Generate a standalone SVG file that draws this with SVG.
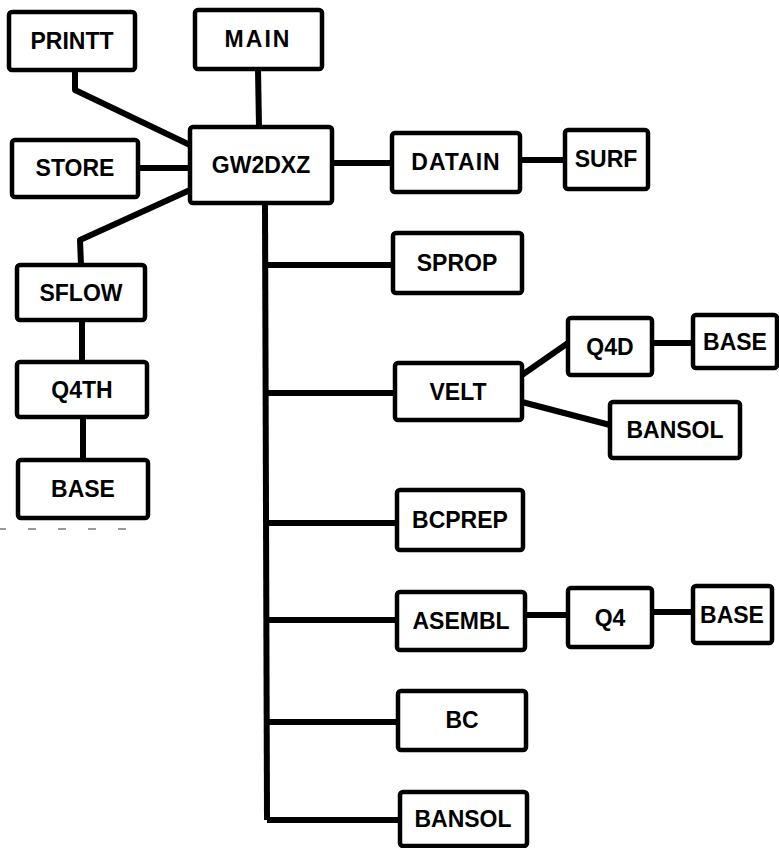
<svg xmlns="http://www.w3.org/2000/svg" width="779" height="848" viewBox="0 0 779 848">
<style>
.box{fill:#fff;stroke:#000;stroke-width:4.5;}
.lbl{font-family:"Liberation Sans",Arial,sans-serif;font-weight:bold;font-size:23px;text-anchor:middle;fill:#000;}
.con{fill:none;stroke:#000;stroke-width:6;stroke-linejoin:round;}
</style>
<rect width="779" height="848" fill="#fff"/>
<g id="connectors">
<path class="con" d="M75 70 L75 90 L190 145"/>
<path class="con" d="M258 69 L259 127"/>
<path class="con" d="M138 168 L190 168"/>
<path class="con" d="M190 190 L80 240 L81 265"/>
<path class="con" d="M332 163 L392 163"/>
<path class="con" d="M520 160 L565 160"/>
<path class="con" d="M265 203 L267 820"/>
<path class="con" d="M265 265 L393 265"/>
<path class="con" d="M265 393 L395 393"/>
<path class="con" d="M266 523 L397 523"/>
<path class="con" d="M266 620 L397 620"/>
<path class="con" d="M267 722 L398 722"/>
<path class="con" d="M267 820 L400 820"/>
<path class="con" d="M522 375 L568 343"/>
<path class="con" d="M522 402 L610 425"/>
<path class="con" d="M652 343 L693 343"/>
<path class="con" d="M82 320 L82 362"/>
<path class="con" d="M83 417 L83 460"/>
<path class="con" d="M525 615 L568 615"/>
<path class="con" d="M652 612 L693 612"/>
</g>
<line x1="-2" y1="529" x2="130" y2="529" stroke="#999" stroke-width="2" stroke-dasharray="8 22"/>
<g id="PRINTT"><rect class="box" x="9" y="12" width="126" height="58" rx="3"/><text class="lbl" x="72" y="49">PRINTT</text></g>
<g id="MAIN"><rect class="box" x="195" y="10" width="127" height="59" rx="3"/><text class="lbl" x="258" y="47" letter-spacing="2">MAIN</text></g>
<g id="GW2DXZ"><rect class="box" x="190" y="127" width="142" height="76" rx="3"/><text class="lbl" x="261" y="173">GW2DXZ</text></g>
<g id="STORE"><rect class="box" x="12" y="140" width="126" height="57" rx="3"/><text class="lbl" x="75" y="176">STORE</text></g>
<g id="DATAIN"><rect class="box" x="392" y="133" width="128" height="59" rx="3"/><text class="lbl" x="456" y="170" letter-spacing="1">DATAIN</text></g>
<g id="SURF"><rect class="box" x="565" y="130" width="83" height="59" rx="3"/><text class="lbl" x="606" y="167">SURF</text></g>
<g id="SFLOW"><rect class="box" x="17" y="265" width="128" height="55" rx="3"/><text class="lbl" x="81" y="301">SFLOW</text></g>
<g id="Q4TH"><rect class="box" x="17" y="362" width="130" height="55" rx="3"/><text class="lbl" x="82" y="398">Q4TH</text></g>
<g id="BASE_1"><rect class="box" x="18" y="460" width="130" height="58" rx="3"/><text class="lbl" x="83" y="497">BASE</text></g>
<g id="SPROP"><rect class="box" x="393" y="233" width="129" height="60" rx="3"/><text class="lbl" x="457" y="271">SPROP</text></g>
<g id="VELT"><rect class="box" x="395" y="363" width="127" height="57" rx="3"/><text class="lbl" x="458" y="400">VELT</text></g>
<g id="Q4D"><rect class="box" x="568" y="318" width="84" height="57" rx="3"/><text class="lbl" x="610" y="355">Q4D</text></g>
<g id="BASE_2"><rect class="box" x="693" y="315" width="84" height="53" rx="3"/><text class="lbl" x="735" y="350">BASE</text></g>
<g id="BANSOL_1"><rect class="box" x="610" y="402" width="130" height="56" rx="3"/><text class="lbl" x="675" y="438">BANSOL</text></g>
<g id="BCPREP"><rect class="box" x="397" y="490" width="126" height="60" rx="3"/><text class="lbl" x="460" y="528">BCPREP</text></g>
<g id="ASEMBL"><rect class="box" x="397" y="592" width="128" height="58" rx="3"/><text class="lbl" x="461" y="629">ASEMBL</text></g>
<g id="Q4"><rect class="box" x="568" y="588" width="84" height="59" rx="3"/><text class="lbl" x="610" y="626">Q4</text></g>
<g id="BASE_3"><rect class="box" x="693" y="586" width="79" height="57" rx="3"/><text class="lbl" x="732" y="623">BASE</text></g>
<g id="BC"><rect class="box" x="398" y="691" width="128" height="59" rx="3"/><text class="lbl" x="462" y="728">BC</text></g>
<g id="BANSOL_2"><rect class="box" x="400" y="792" width="127" height="54" rx="3"/><text class="lbl" x="463" y="827">BANSOL</text></g>
</svg>
